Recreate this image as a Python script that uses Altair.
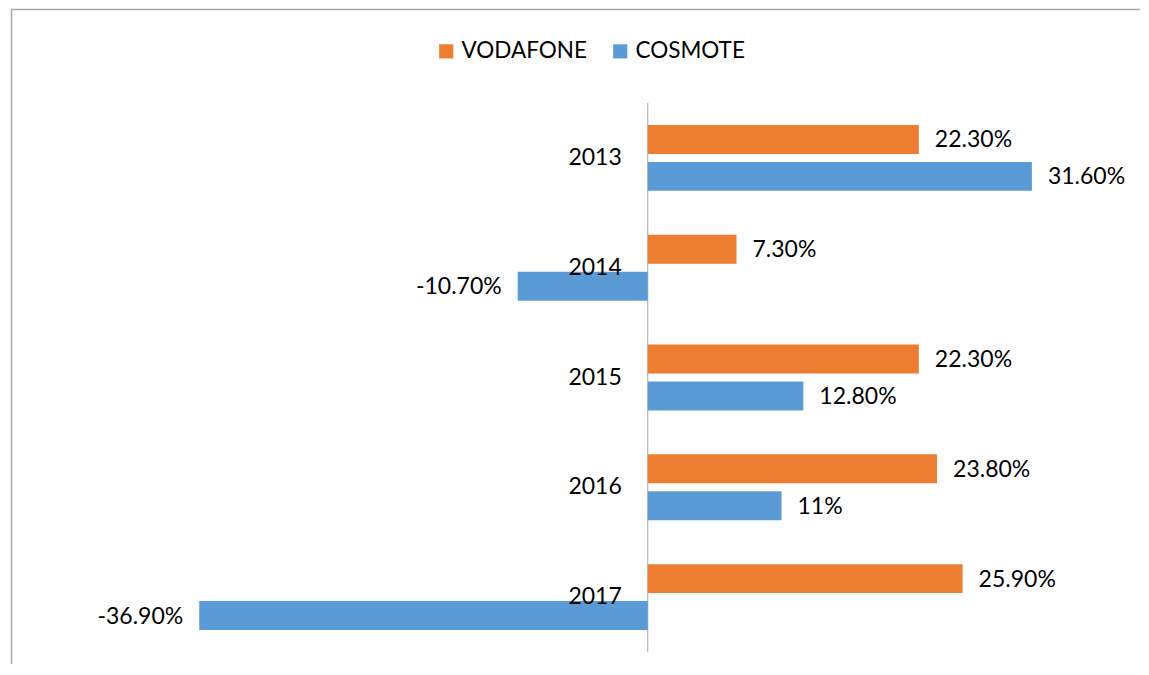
import altair as alt
import pandas as pd

years = ["2013", "2014", "2015", "2016", "2017"]
series_names = ["VODAFONE", "COSMOTE"]
vodafone = [22.3, 7.3, 22.3, 23.8, 25.9]
cosmote = [31.6, -10.7, 12.8, 11.0, -36.9]
vodafone_labels = ["22.30%", "7.30%", "22.30%", "23.80%", "25.90%"]
cosmote_labels = ["31.60%", "-10.70%", "12.80%", "11%", "-36.90%"]
colors = ["#ED7D31", "#5B9BD5"]

rows = []
for i, y in enumerate(years):
    rows.append({"year": y, "series": "VODAFONE", "value": vodafone[i], "label": vodafone_labels[i]})
    rows.append({"year": y, "series": "COSMOTE", "value": cosmote[i], "label": cosmote_labels[i]})
df = pd.DataFrame(rows)
ydf = pd.DataFrame({"year": years})

FONT = "Lato"
FS = 23
W, H = 1094, 549

xscale = alt.Scale(domain=[-50, 40], nice=False, zero=False)
yscale = alt.Scale(domain=years, paddingInner=0.4, paddingOuter=0.2)
yoff = alt.YOffset("series:N", sort=series_names, scale=alt.Scale(domain=series_names, paddingInner=0.216))

base = alt.Chart(df).encode(
    y=alt.Y("year:N", axis=None, scale=yscale, sort=years),
    yOffset=yoff,
)

bars = base.mark_bar().encode(
    x=alt.X("value:Q", scale=xscale, axis=None),
    color=alt.Color("series:N", scale=alt.Scale(domain=series_names, range=colors),
                    legend=alt.Legend(title=None, orient="none", legendX=395, legendY=-63,
                                      direction="horizontal", symbolType="square",
                                      symbolSize=200, symbolStrokeWidth=0,
                                      labelFont=FONT, labelFontSize=22.5, labelColor="#000000",
                                      columnPadding=22, labelOffset=4)),
)

pos_text = base.transform_filter("datum.value >= 0").mark_text(
    align="left", baseline="middle", dx=16, dy=1, font=FONT, fontSize=FS, color="#000000"
).encode(x=alt.X("value:Q", scale=xscale, axis=None), text="label:N")

neg_text = base.transform_filter("datum.value < 0").mark_text(
    align="right", baseline="middle", dx=-16, dy=1, font=FONT, fontSize=FS, color="#000000"
).encode(x=alt.X("value:Q", scale=xscale, axis=None), text="label:N")

zero_rule = alt.Chart(pd.DataFrame({"z": [0]})).mark_rule(color="#A6A6A6", strokeWidth=1).encode(
    x=alt.X("z:Q", scale=xscale, axis=None)
)

year_text = alt.Chart(ydf).mark_text(
    align="right", baseline="middle", dx=-26, font=FONT, fontSize=FS, color="#000000"
).encode(
    x=alt.datum(0),
    y=alt.Y("year:N", axis=None, scale=yscale, sort=years),
    text="year:N",
)

frame_top = alt.Chart(pd.DataFrame({"a": [0]})).mark_rule(color="#A6A6A6", strokeWidth=1.5).encode(
    x=alt.value(-28.5), x2=alt.value(W + 10), y=alt.value(-93.5)
)
frame_left = alt.Chart(pd.DataFrame({"a": [0]})).mark_rule(color="#A6A6A6", strokeWidth=1.5).encode(
    x=alt.value(-28.5), y=alt.value(-93.5), y2=alt.value(H + 20)
)

chart = alt.layer(
    frame_top, frame_left, zero_rule, bars, pos_text, neg_text, year_text
).properties(
    width=W, height=H,
    background="white",
    autosize=alt.AutoSizeParams(type="none"),
    padding={"left": 32, "top": 95, "right": 6, "bottom": 12},
).configure_view(stroke=None)

chart.save("out.html", embed_options={"renderer": "svg", "actions": False})
